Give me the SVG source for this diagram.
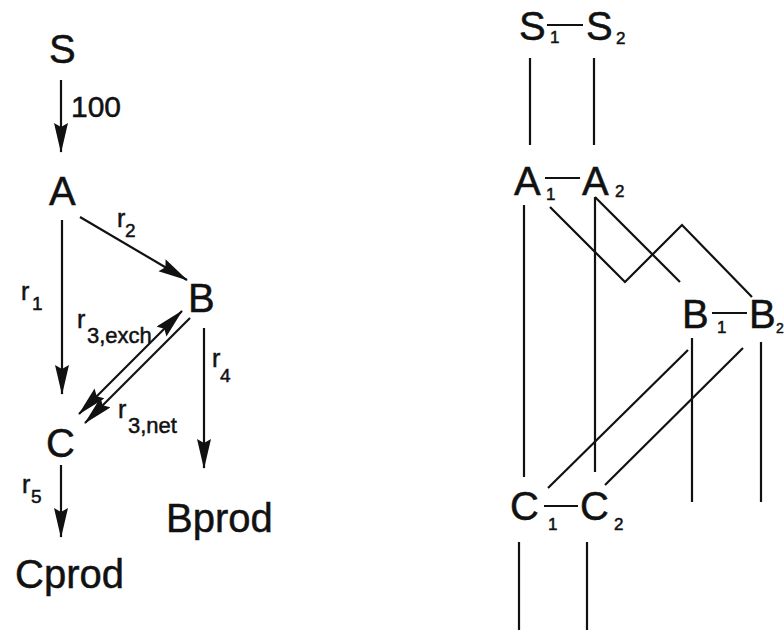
<svg xmlns="http://www.w3.org/2000/svg" width="784" height="630" viewBox="0 0 784 630">
<style>
text{font-family:"Liberation Sans",Arial,sans-serif;fill:#111;stroke:#111;stroke-width:0.5}
.big{font-size:40px}
.r{font-size:25px}
.sub{font-size:19px}
.rs{font-size:17px}
.ln{stroke:#111;stroke-width:2.2;fill:none}
.ar{marker-end:url(#ah)}
</style>
<defs>
<marker id="ah" markerUnits="userSpaceOnUse" markerWidth="32" markerHeight="16" refX="29" refY="7" orient="auto-start-reverse">
<path d="M0,0 L30,7 L0,14 L4,7 Z" fill="#111"/>
</marker>
</defs>
<rect width="784" height="630" fill="#fff"/>
<g id="nodes-left">
<g id="S"><text class="big" x="49" y="63">S</text></g>
<g id="A"><text class="big" x="49" y="205">A</text></g>
<g id="B"><text class="big" x="188" y="312">B</text></g>
<g id="C"><text class="big" x="46" y="457">C</text></g>
<g id="Bprod"><text class="big" x="166" y="532">Bprod</text></g>
<g id="Cprod"><text class="big" x="15" y="588">Cprod</text></g>
</g>
<g id="labels-left">
<text x="71" y="117" style="font-size:30px">100</text>
<text class="r" x="21" y="300">r</text><text class="sub" x="32" y="310">1</text>
<text class="r" x="117" y="227">r</text><text class="sub" x="125" y="237">2</text>
<text class="r" x="77" y="328">r</text><text class="sub" x="87" y="343" style="font-size:22px">3,exch</text>
<text class="r" x="118" y="418">r</text><text class="sub" x="128" y="433" style="font-size:22px">3,net</text>
<text class="r" x="212" y="367">r</text><text class="sub" x="220" y="382">4</text>
<text class="r" x="22" y="493">r</text><text class="sub" x="31" y="503">5</text>
</g>
<g id="connectors-left">
<line class="ln ar" x1="61" y1="80" x2="61" y2="152"/>
<line class="ln ar" x1="62" y1="220" x2="62" y2="394"/>
<line class="ln ar" x1="80" y1="217" x2="187" y2="280"/>
<line class="ln ar" x1="204" y1="328" x2="204" y2="468"/>
<line class="ln ar" x1="61" y1="465" x2="61" y2="537"/>
<line class="ln ar" x1="79" y1="414" x2="182" y2="311" style="marker-start:url(#ah)"/>
<line class="ln ar" x1="190" y1="318" x2="85" y2="423"/>
</g>
<g id="nodes-right">
<g id="S1S2">
<text class="big" x="519" y="40">S</text><text class="rs" x="550" y="43">1</text>
<text class="big" x="586" y="40">S</text><text class="rs" x="616" y="44">2</text>
<line class="ln" x1="547" y1="25" x2="583" y2="25"/>
</g>
<g id="A1A2">
<text class="big" x="514" y="195">A</text><text class="rs" x="546" y="200">1</text>
<text class="big" x="582" y="195">A</text><text class="rs" x="615" y="197">2</text>
<line class="ln" x1="545" y1="178" x2="580" y2="178"/>
</g>
<g id="B1B2">
<text class="big" x="682" y="328">B</text><text class="rs" x="717" y="333">1</text>
<text class="big" x="749" y="328">B</text><text class="rs" x="776" y="333" style="font-size:14px">2</text>
<line class="ln" x1="712" y1="313" x2="747" y2="313"/>
</g>
<g id="C1C2">
<text class="big" x="510" y="520">C</text><text class="rs" x="548" y="530">1</text>
<text class="big" x="580" y="520">C</text><text class="rs" x="614" y="530">2</text>
<line class="ln" x1="544" y1="506" x2="578" y2="506"/>
</g>
</g>
<g id="connectors-right">
<line class="ln" x1="530" y1="58" x2="530" y2="145"/>
<line class="ln" x1="594" y1="58" x2="594" y2="145"/>
<line class="ln" x1="524" y1="205" x2="524" y2="477"/>
<line class="ln" x1="595" y1="197" x2="595" y2="472"/>
<polyline class="ln" points="550,207 625,282 682,225 752,297"/>
<line class="ln" x1="595" y1="197" x2="680" y2="282"/>
<line class="ln" x1="692" y1="338" x2="692" y2="502"/>
<line class="ln" x1="761" y1="342" x2="761" y2="502"/>
<line class="ln" x1="688" y1="350" x2="548" y2="488"/>
<line class="ln" x1="743" y1="348" x2="605" y2="485"/>
<line class="ln" x1="519" y1="542" x2="519" y2="630"/>
<line class="ln" x1="587" y1="542" x2="587" y2="630"/>
</g>
</svg>
